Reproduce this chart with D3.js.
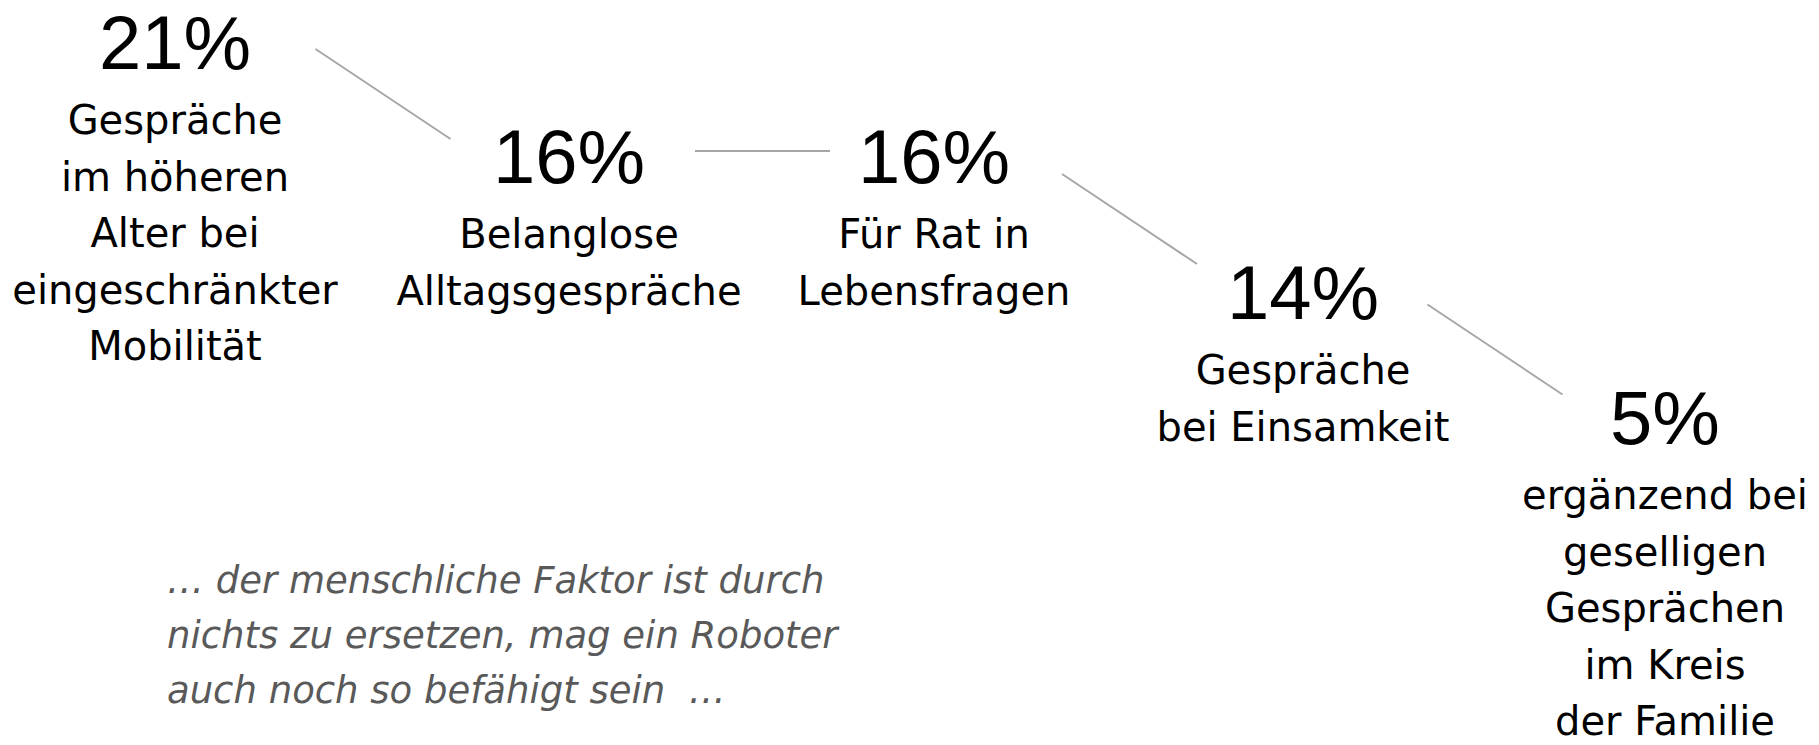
<!DOCTYPE html>
<html>
<head>
<meta charset="utf-8">
<script src="https://cdn.jsdelivr.net/npm/d3@7"></script>
<style>
  body { margin: 0; background: #fff; }
  svg { display: block; }
</style>
</head>
<body>
<div id="chart"></div>
<script>
// shares (percent) per use case, in the order shown left to right
var values = [21, 16, 16, 14, 5];

// label lines under each percentage
var labels = [
  ["Gespräche", "im höheren", "Alter bei", "eingeschränkter", "Mobilität"],
  ["Belanglose", "Alltagsgespräche"],
  ["Für Rat in", "Lebensfragen"],
  ["Gespräche", "bei Einsamkeit"],
  ["ergänzend bei", "geselligen", "Gesprächen", "im Kreis", "der Familie"]
];

// quote at the bottom left
var quoteLines = [
  "… der menschliche Faktor ist durch",
  "nichts zu ersetzen, mag ein Roboter",
  "auch noch so befähigt sein  …"
];

var width = 1819, height = 745;

var svg = d3.select("#chart").append("svg")
    .attr("width", width)
    .attr("height", height);

// horizontal slot of each item
var x = d3.scaleOrdinal()
    .domain(d3.range(values.length))
    .range([175, 569, 934, 1303, 1665]);

// one step down per distinct value (stair layout)
var levels = Array.from(new Set(values)).sort(function(a, b) { return b - a; });
var y = d3.scaleOrdinal()
    .domain(levels)
    .range([69, 183, 319, 444]);

var numMid = function(v) { return y(v) - 29; };

// connectors between neighbouring numbers
var pairs = d3.pairs(d3.range(values.length));
svg.selectAll("line.link")
  .data(pairs)
  .enter().append("line")
    .attr("class", "link")
    .attr("x1", function(p) { return (x(p[0]) + x(p[1])) / 2 + 11 - 67.5; })
    .attr("x2", function(p) { return (x(p[0]) + x(p[1])) / 2 + 11 + 67.5; })
    .attr("y1", function(p) {
      var c = (numMid(values[p[0]]) + numMid(values[p[1]])) / 2 - 3;
      return values[p[0]] === values[p[1]] ? c : c - 45;
    })
    .attr("y2", function(p) {
      var c = (numMid(values[p[0]]) + numMid(values[p[1]])) / 2 - 3;
      return values[p[0]] === values[p[1]] ? c : c + 45;
    })
    .style("stroke", "#a6a6a6")
    .style("stroke-width", 2);

var node = svg.selectAll("g.node")
  .data(values)
  .enter().append("g")
    .attr("class", "node")
    .attr("transform", function(d, i) { return "translate(" + x(i) + "," + y(d) + ")"; });

node.append("text")
    .attr("text-anchor", "middle")
    .style("font-family", "'Liberation Sans', Arial, sans-serif")
    .style("font-size", "76px")
    .style("fill", "#000")
    .text(function(d) { return d + "%"; });

node.append("text")
    .attr("text-anchor", "middle")
    .style("font-family", "'DejaVu Sans', sans-serif")
    .style("font-size", "40px")
    .style("fill", "#000")
  .selectAll("tspan")
  .data(function(d, i) { return labels[i]; })
  .enter().append("tspan")
    .attr("x", 0)
    .attr("y", function(d, j) { return 65 + j * 56.5; })
    .text(function(d) { return d; });

// quote
svg.append("text")
    .attr("transform", "translate(167,593)")
    .style("font-family", "'DejaVu Sans', sans-serif")
    .style("font-style", "italic")
    .style("font-size", "37px")
    .style("white-space", "pre")
    .style("fill", "#595959")
  .selectAll("tspan")
  .data(quoteLines)
  .enter().append("tspan")
    .attr("x", 0)
    .attr("y", function(d, j) { return j * 55; })
    .text(function(d) { return d; });
</script>
</body>
</html>
